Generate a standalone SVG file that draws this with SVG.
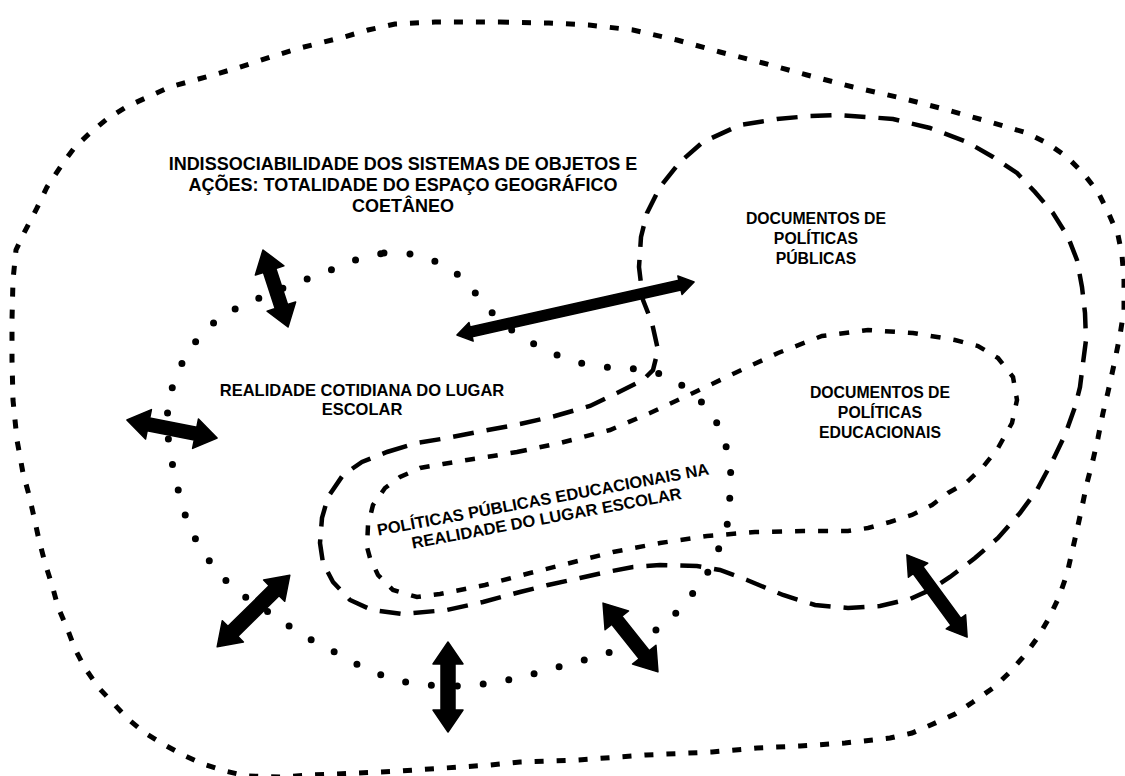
<svg xmlns="http://www.w3.org/2000/svg" width="1125" height="776" viewBox="0 0 1125 776">
<style>
.bg{fill:#ffffff}
.outer{fill:none;stroke:#000;stroke-width:5;stroke-dasharray:9 13}
.dots{fill:none;stroke:#000;stroke-width:7;stroke-linecap:round;stroke-dasharray:0 26}
.long{fill:none;stroke:#000;stroke-width:4.5;stroke-dasharray:21 13}
.short{fill:none;stroke:#000;stroke-width:4.5;stroke-dasharray:10 13}
.arr{fill:#000;stroke:#000;stroke-width:1.5;stroke-linejoin:round}
text{font-family:"Liberation Sans",Arial,Helvetica,sans-serif;font-weight:bold;fill:#000;text-anchor:middle}
.t18{font-size:18px}
.t16{font-size:16.5px}
.t15{font-size:15.8px}
</style>
<rect class="bg" x="0" y="0" width="1125" height="776"/>

<g id="espaco-geografico">
<path class="outer" d="M 500 22 L 549 23 L 589 25 L 633 30 L 677 40 L 720 52 L 763 63 L 807 75 L 853 87 L 897 97 L 940 108 L 983 120 L 1027 133 L 1047 143 L 1067 157 L 1083 173 L 1098 192 L 1108 212 L 1118 235 L 1122 255 L 1124 280 L 1124 310 L 1120 335 L 1115 360 L 1108 392 L 1103 413 L 1098 438 L 1093 460 L 1087 483 L 1082 507 L 1077 530 L 1072 552 L 1067 574 L 1059 597 L 1049 618 L 1038 637 L 1025 655 L 1009 673 L 993 688 L 973 702 L 955 714 L 933 724 L 912 733 L 890 738 L 845 743 L 800 746 L 757 748 L 712 752 L 646 755 L 578 760 L 520 762 L 490 765 L 445 768 L 400 771 L 357 773 L 312 775 L 280 777 L 247 776 L 225 771 L 203 764 L 183 755 L 163 744 L 145 733 L 128 719 L 113 703 L 98 687 L 85 668 L 75 649 L 67 628 L 58 607 L 52 585 L 45 563 L 39 540 L 34 517 L 29 495 L 23 473 L 17 440 L 13 400 L 12 360 L 12 320 L 13 280 L 16 250 L 24 233 L 36 210 L 47 187 L 63 163 L 75 147 L 91 132 L 107 119 L 126 107 L 150 96 L 170 87 L 213 75 L 237 68 L 277 55 L 300 48 L 344 37 L 368 30 L 395 24 L 435 22 Z"/>
<text class="t18" x="403" y="170">INDISSOCIABILIDADE DOS SISTEMAS DE OBJETOS E</text>
<text class="t18" x="403" y="191">AÇÕES: TOTALIDADE DO ESPAÇO GEOGRÁFICO</text>
<text class="t18" x="403" y="212">COETÂNEO</text>
</g>

<g id="politicas-publicas">
<path class="long" d="M 387 452 L 417 443 L 447 438 L 483 431 L 520 424 L 555 416 L 590 406 L 617 393 L 643 380 L 653 370 L 658 350 L 652 323 L 643 300 L 639 267 L 641 237 L 647 213 L 660 187 L 680 162 L 703 142 L 740 125 L 777 119 L 810 116 L 837 115 L 867 117 L 893 119 L 930 128 L 967 142 L 993 157 L 1017 173 L 1035 192 L 1053 213 L 1068 237 L 1077 260 L 1082 287 L 1085 313 L 1086 340 L 1083 363 L 1080 387 L 1075 407 L 1065 435 L 1052 462 L 1037 490 L 1020 513 L 998 538 L 975 558 L 950 577 L 930 590 L 910 599 L 880 606 L 848 608 L 815 605 L 783 595 L 747 580 L 720 570 L 697 566 L 660 565 L 633 567 L 607 572 L 580 578 L 548 585 L 520 592 L 483 602 L 447 610 L 402 614 L 372 610 L 350 600 L 333 582 L 323 563 L 320 543 L 322 518 L 328 497 L 343 475 L 362 462 Z"/>
<text class="t15" x="816" y="224">DOCUMENTOS DE</text>
<text class="t15" x="816" y="244">POLÍTICAS</text>
<text class="t15" x="816" y="264">PÚBLICAS</text>
</g>

<g id="politicas-educacionais">
<path class="short" d="M 517 452 L 560 443 L 610 430 L 650 413 L 693 393 L 735 373 L 778 353 L 822 336 L 868 330 L 913 333 L 955 340 L 978 346 L 998 358 L 1013 377 L 1017 400 L 1012 423 L 998 448 L 983 467 L 967 482 L 948 493 L 932 505 L 912 515 L 890 522 L 868 528 L 848 531 L 803 531 L 755 532 L 707 536 L 660 543 L 613 552 L 570 563 L 530 573 L 485 585 L 440 594 L 417 597 L 393 590 L 378 575 L 370 558 L 367 547 L 368 525 L 373 505 L 385 488 L 400 477 L 420 468 L 443 464 L 467 460 L 493 456 Z"/>
<text class="t15" x="880" y="398">DOCUMENTOS DE</text>
<text class="t15" x="880" y="418">POLÍTICAS</text>
<text class="t15" x="880" y="438">EDUCACIONAIS</text>
</g>

<g id="lugar-escolar">
<path class="dots" d="M 384 253 L 411 254 L 437 262 L 460 276 L 478 296 L 494 315 L 513 331 L 534 344 L 557 355 L 580 363 L 604 367 L 628 368 L 652 371 L 673 379 L 693 393 L 709 410 L 721 430 L 728 453 L 731 475 L 730 495 L 728 522 L 719 548 L 708 572 L 693 593 L 676 613 L 656 630 L 632 643 L 608 653 L 581 661 L 554 668 L 526 676 L 498 682 L 470 686 L 442 686 L 413 684 L 386 677 L 360 666 L 329 649 L 306 637 L 283 622 L 261 607 L 239 593 L 220 575 L 205 555 L 192 533 L 183 509 L 176 481 L 170 453 L 167 427 L 168 401 L 176 376 L 187 353 L 203 332 L 223 315 L 247 303 L 269 294 L 291 285 L 313 277 L 336 268 L 358 259 Z"/>
<text class="t16" x="362" y="396">REALIDADE COTIDIANA DO LUGAR</text>
<text class="t16" x="362" y="415">ESCOLAR</text>
</g>

<g id="intersecao">
<g transform="rotate(-10.5 544 505)">
<text class="t16" x="544" y="505">POLÍTICAS PÚBLICAS EDUCACIONAIS NA</text>
<text class="t16" x="544" y="524">REALIDADE DO LUGAR ESCOLAR</text>
</g>
</g>

<g id="connectors">
<path class="arr" transform="translate(275.5 288.5) rotate(72)" d="M -40.5 0 L -19 -15 L -19 -6.5 L 19 -6.5 L 19 -15 L 40.5 0 L 19 15 L 19 6.5 L -19 6.5 L -19 15 Z"/>
<path class="arr" transform="translate(172 429) rotate(11.3)" d="M -46 0 L -24 -15 L -24 -6.5 L 24 -6.5 L 24 -15 L 46 0 L 24 15 L 24 6.5 L -24 6.5 L -24 15 Z"/>
<path class="arr" transform="translate(575.5 308.5) rotate(-12.6)" d="M -121.5 0 L -107 -9.5 L -107 -5 L 107 -5 L 107 -9.5 L 121.5 0 L 107 9.5 L 107 5 L -107 5 L -107 9.5 Z"/>
<path class="arr" transform="translate(253.5 611) rotate(-44.6)" d="M -51 0 L -29 -15 L -29 -7 L 29 -7 L 29 -15 L 51 0 L 29 15 L 29 7 L -29 7 L -29 15 Z"/>
<path class="arr" transform="translate(448 687) rotate(90)" d="M -45 0 L -23 -15 L -23 -7 L 23 -7 L 23 -15 L 45 0 L 23 15 L 23 7 L -23 7 L -23 15 Z"/>
<path class="arr" transform="translate(630.5 637.5) rotate(51.4)" d="M -44 0 L -22 -15 L -22 -6.5 L 22 -6.5 L 22 -15 L 44 0 L 22 15 L 22 6.5 L -22 6.5 L -22 15 Z"/>
<path class="arr" transform="translate(937 596) rotate(53.8)" d="M -51 0 L -32 -12 L -32 -6 L 32 -6 L 32 -12 L 51 0 L 32 12 L 32 6 L -32 6 L -32 12 Z"/>
</g>
</svg>
